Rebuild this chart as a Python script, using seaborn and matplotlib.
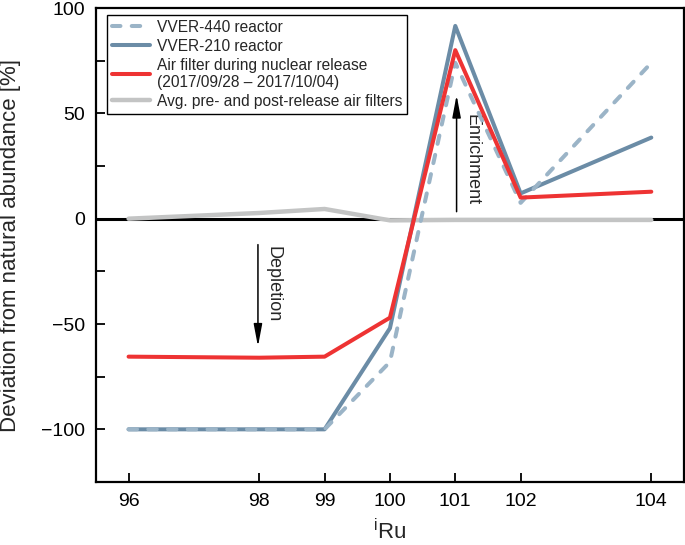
import matplotlib
matplotlib.use("Agg")
import matplotlib.pyplot as plt
from matplotlib.ticker import MultipleLocator
import seaborn as sns

# Ru isotope masses and deviation from natural abundance [%]
mass = [96, 98, 99, 100, 101, 102, 104]
vver440 = [-100, -100, -100, -68, 74, 7.5, 74]
vver210 = [-100, -100, -100, -52, 91.5, 12, 38.5]
air_release = [-65.5, -66, -65.5, -47, 80, 10, 12.8]
air_background = [0, 2.7, 4.6, -0.8, -0.6, -0.6, -0.6]

labels = ["VVER-440 reactor", "VVER-210 reactor",
          "Air filter during nuclear release\n(2017/09/28 \u2013 2017/10/04)",
          "Avg. pre- and post-release air filters"]

sns.set_theme(style="white")
plt.rcParams["font.family"] = ["Liberation Sans", "DejaVu Sans"]
plt.rcParams["mathtext.fontset"] = "custom"
plt.rcParams["mathtext.rm"] = "Liberation Sans"
plt.rcParams["mathtext.it"] = "Liberation Sans"

fig = plt.figure(figsize=(6.85, 5.45), dpi=100)
ax = fig.add_axes([0.140, 0.1156, 0.8585, 0.8697])

ax.axhline(0, color="black", lw=2.2, zorder=1.5)

sns.lineplot(x=mass, y=air_background, ax=ax, color="#c3c4c4", lw=3.2,
             label=labels[3], zorder=2)
sns.lineplot(x=mass, y=vver210, ax=ax, color="#6b8ca6", lw=2.9,
             label=labels[1], zorder=3)
sns.lineplot(x=mass, y=vver440, ax=ax, color="#9bb4c7", lw=2.9,
             linestyle=(0, (2.1, 2.8)), dash_capstyle="round",
             label=labels[0], zorder=4)
sns.lineplot(x=mass, y=air_release, ax=ax, color="#ee3333", lw=2.9,
             label=labels[2], zorder=5)

# enrichment / depletion arrows
arrow_props = dict(arrowstyle="-|>,head_length=0.9,head_width=0.17",
                   color="black", lw=1.1, mutation_scale=15)
ax.annotate("", xy=(101.02, 60), xytext=(101.02, 2), arrowprops=arrow_props,
            zorder=6)
ax.text(101.12, 28, "Enrichment", rotation=-90, ha="left", va="center",
        fontsize=13)
ax.annotate("", xy=(97.98, -62), xytext=(97.98, -11), arrowprops=arrow_props,
            zorder=6)
ax.text(98.08, -31, "Depletion", rotation=-90, ha="left", va="center",
        fontsize=13)

ax.set_xlim(95.5, 104.5)
ax.set_ylim(-125, 100)
ax.set_xticks(mass)
ax.yaxis.set_major_locator(MultipleLocator(50))
ax.yaxis.set_minor_locator(MultipleLocator(25))
ax.set_yticklabels([f"{int(v)}".replace("-", "\u2212") for v in ax.get_yticks()])

ax.tick_params(axis="both", which="both", direction="in", length=6.5,
               width=1.3, colors="black", labelsize=14, pad=8,
               left=True, bottom=True, top=False, right=False)
for side in ax.spines.values():
    side.set_linewidth(1.6)
    side.set_color("black")

ax.set_ylabel("Deviation from natural abundance [%]", fontsize=16)
ax.yaxis.set_label_coords(-0.127, 0.5)
ax.set_xlabel(r"$^{\mathrm{i}}$Ru", fontsize=16)
ax.xaxis.label.set_va("baseline")
ax.xaxis.set_label_coords(0.5, -0.121)

handles, labs = ax.get_legend_handles_labels()
order = [labs.index(l) for l in labels]
leg = ax.legend([handles[i] for i in order], [labs[i] for i in order],
                loc="upper left", bbox_to_anchor=(0.0187, 0.985),
                borderaxespad=0, fontsize=11.2, frameon=True, fancybox=False,
                framealpha=1, edgecolor="black", handlelength=2.5,
                handletextpad=0.45, labelspacing=0.25, borderpad=0.3)
leg.get_frame().set_linewidth(1.0)

fig.savefig("out.png", dpi=100)
